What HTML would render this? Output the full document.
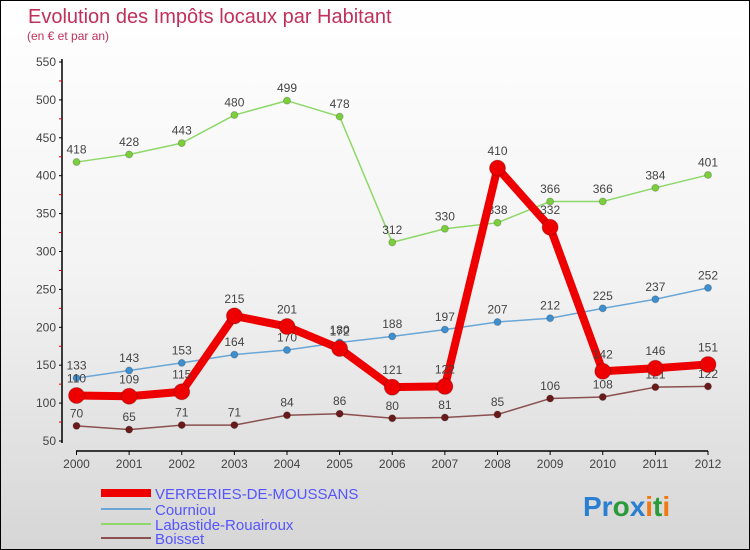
<!DOCTYPE html>
<html><head><meta charset="utf-8"><style>
body{margin:0}
#c{width:748px;height:548px;border:1px solid #000;background:linear-gradient(#fff 0%,#f3f3f3 50%,#d6d6d6 100%);position:relative;font-family:"Liberation Sans",sans-serif}
</style></head><body>
<div id="c">
<svg width="748" height="548" id="svg" style="position:absolute;left:0;top:0">
<text x="27" y="22" font-size="20" fill="#c0305a">Evolution des Impôts locaux par Habitant</text>
<text x="26" y="39" font-size="12" fill="#c0305a">(en € et par an)</text>
<g id="axes"></g><g id="series"></g>
<g>
<line x1="100" y1="492" x2="150" y2="492" stroke="#e00" stroke-width="8"/>
<text x="154" y="498" font-size="15" fill="#55f">VERRERIES-DE-MOUSSANS</text>
<line x1="100" y1="508" x2="150" y2="508" stroke="#6aa6d6" stroke-width="2"/>
<text x="154" y="514" font-size="15" fill="#55f">Courniou</text>
<line x1="100" y1="523" x2="150" y2="523" stroke="#8ed86a" stroke-width="2"/>
<text x="154" y="529" font-size="15" fill="#55f">Labastide-Rouairoux</text>
<line x1="100" y1="537" x2="150" y2="537" stroke="#8b5050" stroke-width="2"/>
<text x="154" y="543" font-size="15" fill="#55f">Boisset</text>
</g>
<text x="582" y="515" font-size="28" font-weight="bold"><tspan fill="#2a7fd0">Pr</tspan><tspan fill="#2a9a3a">o</tspan><tspan fill="#2a7fd0">x</tspan><tspan fill="#f07a10">i</tspan><tspan fill="#2a9a3a">t</tspan><tspan fill="#f07a10">i</tspan></text>
</svg></div>
<script>
const years=["2000","2001","2002","2003","2004","2005","2006","2007","2008","2009","2010","2011","2012"];
const yTicks=[50,100,150,200,250,300,350,400,450,500,550];
const verreries=[110,109,115,215,201,172,121,122,410,332,142,146,151];
const courniou=[133,143,153,164,170,180,188,197,207,212,225,237,252];
const labastide=[418,428,443,480,499,478,312,330,338,366,366,384,401];
const boisset=[70,65,71,71,84,86,80,81,85,106,108,121,122];
const NS="http://www.w3.org/2000/svg";
const X=i=>75.5+i*(707-75.5)/(years.length-1);
const Y=v=>440-(v-50)*(440-61)/500;
function mk(t,a,p){const e=document.createElementNS(NS,t);for(const k in a)e.setAttribute(k,a[k]);p.appendChild(e);return e;}
const ax=document.getElementById('axes');
let e=mk('line',{x1:61,y1:58,x2:61,y2:442,stroke:'#000','stroke-width':1.5},ax);


e=mk('line',{x1:75,y1:450,x2:707,y2:450,stroke:'#000','stroke-width':1.5},ax);


yTicks.forEach((v,i)=>{
 mk('line',{x1:58,y1:Y(v),x2:61,y2:Y(v),stroke:'#000'},ax);
 if(i<yTicks.length-1)mk('line',{x1:58,y1:Y(v+25),x2:61,y2:Y(v+25),stroke:'#d00'},ax);
 const t=mk('text',{x:55,y:Y(v)+4,'font-size':12,fill:'#444','text-anchor':'end'},ax);t.textContent=v;
 
 
});
years.forEach((y,i)=>{
 mk('line',{x1:X(i),y1:450,x2:X(i),y2:454,stroke:'#000'},ax);
 const t=mk('text',{x:X(i),y:467,'font-size':12,fill:'#444','text-anchor':'middle'},ax);t.textContent=y;
 
 
});
const sg=document.getElementById('series');
function series(data,name,color,w,r,dot){
 const g=mk('g',{},sg);
 
 
 const l=mk('polyline',{points:data.map((v,i)=>X(i)+','+Y(v)).join(' '),fill:'none',stroke:color,'stroke-width':w,'stroke-linejoin':'round'},g);
 
 
 data.forEach((v,i)=>{
  const c=mk('circle',{cx:X(i),cy:Y(v),r:r,fill:dot,stroke:'#0003'},g);
  
  
  const t=mk('text',{x:X(i),y:Y(v)-r-5,'font-size':12,fill:'#444','text-anchor':'middle'},g);t.textContent=v;
  
  
 });
}
series(boisset,'boisset','#8b5050',1.5,3.5,'#6a1a1a');
series(labastide,'labastide','#8ed86a',1.5,3.5,'#7ccf3c');
series(courniou,'courniou','#6aa6d6',1.5,3.5,'#3d8fd0');
series(verreries,'verreries','#e00',8,8,'#e00');
</script>
</body></html>
